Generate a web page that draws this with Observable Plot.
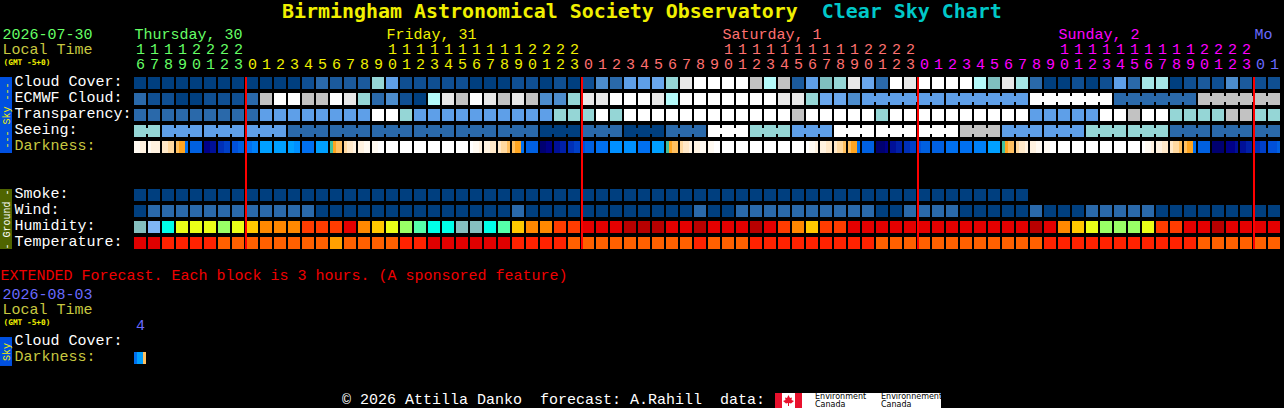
<!DOCTYPE html>
<html><head><meta charset="utf-8">
<script src="https://cdn.jsdelivr.net/npm/d3@7"></script>
<script src="https://cdn.jsdelivr.net/npm/@observablehq/plot@0.6"></script>
<style>
html,body{margin:0;padding:0;background:#000;overflow:hidden}
#head{height:24px;line-height:24px;padding-left:282px;font:bold 19.93px/24px "DejaVu Sans Mono",monospace;white-space:pre;color:#f0f000}
#head span{color:#00c8c8}
#foot{position:relative;height:17px;color:#fff;font:15px/18px "Liberation Mono",monospace;white-space:pre}
#foot .t{position:absolute;left:342px;top:1px}
#logo{position:absolute;left:775px;top:2px;width:166px;height:15px;background:#fff;overflow:hidden}
#logo i{position:absolute;top:0;height:15px;width:7px;background:#e8112d}
#logo svg{position:absolute;left:8px;top:2px}
#logo b{position:absolute;top:0;font:400 8px/8px "DejaVu Sans",sans-serif;color:#000;white-space:pre}
svg{display:block}
</style></head><body>
<div id="head">Birmingham Astronomical Society Observatory  <span>Clear Sky Chart</span></div>
<div id="chart"></div>
<div id="foot"><span class="t">© 2026 Attilla Danko  forecast: A.Rahill  data:</span><div id="logo"><i style="left:0"></i><i style="left:20px"></i><svg width="11" height="11" viewBox="0 0 11 11"><path d="M5.5 0L7 3L9 2.5L8.5 5L11 6L8 8.5L6 8L6 11L5 11L5 8L3 8.5L0 6L2.5 5L2 2.5L4 3Z" fill="#e8112d"/></svg><b style="left:40px">Environment
Canada</b><b style="left:106px">Environnement
Canada</b></div></div>
<script>
// Sky and cloud palette, index = class
const skyPalette = ["#003f7f","#0f4f92","#1b5a9c","#2a69aa","#4c8ccc","#5e9fe8","#6aa7ec","#95d6d6","#7fbfbf","#a4e6e6","#b4fafa","#c2c2c2","#e8e8e8","#ffffff"];
const cloudCover = [
0,0,0,0,0,0,0,0,0,0,
0,0,1,3,2,2,2,7,5,1,
1,1,1,1,0,0,0,1,1,0,
1,0,1,4,3,5,5,6,7,12,
13,13,13,13,11,10,11,2,5,8,
7,12,6,3,13,12,13,13,13,13,
10,8,12,9,3,0,0,1,0,1,
5,3,9,9,0,1,2,1,4,2,
1,1];
const ecmwfCloud = [
3,1,1,0,0,1,1,1,3,11,
13,13,11,11,13,12,7,3,4,1,
0,10,12,11,13,12,11,12,11,4,
4,7,12,12,13,13,13,12,10,13,
13,13,13,13,13,13,12,12,7,6,
6,4,5,5,5,5,5,5,5,5,
5,5,5,5,13,13,13,13,13,13,
3,3,3,3,3,3,11,11,11,11,
11,11];
const transparency = [
3,3,3,3,3,3,3,3,3,5,
5,5,5,5,5,5,5,13,13,7,
5,5,5,5,5,5,5,5,5,5,
7,7,7,13,7,13,13,13,13,13,
13,13,13,13,13,13,13,11,13,13,
13,13,13,7,13,13,13,13,13,13,
13,13,13,13,5,5,5,5,5,13,
13,11,13,13,7,7,7,7,11,11,
7,7];
const seeing = [
7,7,5,5,5,5,5,5,5,5,
5,3,3,3,3,3,3,3,3,3,
3,3,3,3,3,3,3,3,3,0,
0,0,3,3,3,0,0,0,3,3,
3,13,13,13,7,7,7,5,5,5,
13,13,13,13,13,13,13,13,13,11,
11,11,5,5,5,5,5,5,7,7,
7,7,7,7,3,3,3,3,3,3,
3,3];
const smoke = [
0,0,0,0,0,0,0,0,0,0,
0,0,0,0,0,0,0,0,0,0,
0,0,0,0,0,0,0,0,0,0,
0,0,0,0,0,0,0,0,0,0,
0,0,0,0,0,0,0,0,0,0,
0,0,0,0,0,0,0,0,0,0,
0,0,0,0];
const wind = [
0,3,3,3,3,3,3,3,3,3,
3,3,3,0,0,0,0,0,0,0,
0,0,0,0,0,0,0,3,0,0,
0,0,0,0,0,0,0,0,0,0,
3,0,0,3,3,3,3,3,3,3,
3,3,3,0,0,3,3,3,3,0,
0,0,0,0,3,0,0,0,3,3,
3,3,3,0,0,0,0,0,0,0,
0,0];
const humidityPalette = ["#85bfbf","#7fb5f5","#00ffe8","#55ffaa","#99ff66","#eaff18","#ffc800","#ff8800","#ff3c00","#e40000","#b80000"];
const humidity = [
0,1,2,5,5,5,4,5,6,7,
7,7,8,8,8,9,7,6,5,4,
3,2,2,0,0,2,3,6,7,7,
8,8,9,9,9,10,10,10,9,9,
10,9,9,9,10,9,8,7,6,8,
8,9,9,9,9,9,9,9,9,9,
9,9,9,9,10,9,7,6,5,4,
4,4,5,8,8,9,9,10,9,9,
9,9];
const temperaturePalette = ["#e00000","#ff2200","#ff6000","#ffa000"];
const temperature = [
0,0,1,1,1,1,2,2,2,2,
2,2,2,2,3,2,2,2,2,1,
1,0,0,0,0,0,0,1,1,1,
1,2,2,2,2,2,2,2,2,2,
1,2,2,2,1,1,1,1,1,1,
1,1,1,2,2,2,2,2,2,2,
2,2,2,2,2,1,1,1,1,1,
1,1,1,1,1,1,2,2,2,2,
2,2];
// Darkness: each block holds four strips, coded by the keys of darknessPalette
const darknessPalette = {"0":"#ffffff","1":"#fffaf2","2":"#fff2e0","3":"#ffe8c8","4":"#ffd9a0","5":"#ffc060","6":"#ffa520","7":"#40c0a0","8":"#00a0ff","9":"#0090ff","a":"#0080f8","b":"#0070f0","c":"#0060e0","d":"#0050d8","e":"#0040c8","f":"#0030b8","g":"#0020a8","h":"#001098","i":"#000088","j":"#000070"};
const darkness = [
"1122","1222","3344","566b","cccc","iihh","ffee","ddcc","bbaa","8888",
"8888","8899","bbbb","8888","7655","4332","2211","1100","0000","0000",
"0000","0000","0000","0000","0112","2233","3445","566b","cccc","jjii",
"hhgg","ffee","dccc","bbbb","9999","9999","bbbb","8888","7655","4332",
"2211","1100","0000","0000","0000","0000","0000","0000","0112","2233",
"3445","566b","cccc","jjji","hhgg","ffee","dccc","cccc","bbbb","bbbb",
"aaaa","8888","7655","4332","2211","1100","0000","0000","0000","0000",
"0000","0000","0112","2233","3445","566b","cccc","jjjj","iiih","hhgg",
"ffee","dddc"];
const extendedDarkness = ["b885"];
// Rows, in steps of one line of the chart
const rowSky = {"Cloud Cover:":0,"ECMWF Cloud:":1,"Transparency:":2,"Seeing:":3};
const rowGround = {"Smoke:":7,"Wind:":8,"Humidity:":9,"Temperature:":10};
const rowDark = 4, rowExtDark = 17.1875;
const hourStart = 16;
const dayLabels = [["Thursday, 30",0,"#66ff66"],["Friday, 31",18,"#f0f000"],["Saturday, 1",42,"#ff7070"],["Sunday, 2",66,"#ff00ff"],["Mo",80,"#6a6aff"]];
const midnights = [8,32,56,80];
const dayColor = c => c<8?"#66ff66":c<32?"#f0f000":c<56?"#ff7070":c<80?"#ff00ff":"#6a6aff";

const W = 12/14, H = 0.75, mono = "Liberation Mono";
const cells = [];
const addRow = (vals,row,pal)=>vals.forEach((v,c)=>cells.push({x1:c,x2:c+W,y1:row,y2:row+H,color:pal[v]}));
addRow(cloudCover,0,skyPalette);
addRow(ecmwfCloud,1,skyPalette);
addRow(transparency,2,skyPalette);
addRow(seeing,3,skyPalette);
addRow(smoke,7,skyPalette);
addRow(wind,8,skyPalette);
addRow(humidity,9,humidityPalette);
addRow(temperature,10,temperaturePalette);
const addBridge=(vals,row,test)=>vals.forEach((v,c)=>{ if(c<vals.length-1 && test(c)) cells.push({x1:c+W,x2:c+1,y1:row+3/16,y2:row+9/16,color:skyPalette[v]}); });
addBridge(seeing,3,c=>(c-1)%3!==0);
addBridge(ecmwfCloud,1,c=>c>=52&&(c-51)%6!==0);
const addDark=(vals,row)=>vals.forEach((s,c)=>[...s].forEach((k,i)=>cells.push({x1:c+i*3/14,x2:c+(i+1)*3/14,y1:row,y2:row+H,color:darknessPalette[k]})));
addDark(darkness,rowDark);
addDark(extendedDarkness,rowExtDark);

const X0=-134/14;
const bars=[
 {x1:X0,x2:X0+W,y1:0,y2:4.75,color:"#0050e0"},
 {x1:X0,x2:X0+W,y1:7,y2:10.75,color:"#4f6400"},
 {x1:X0,x2:X0+W,y1:16.25,y2:18.06,color:"#0050e0"}];
const barText=[
 {t:"--- Sky ---",y:2.375,color:"#f0f000"},
 {t:"- Ground -",y:8.875,color:"#ffffff"},
 {t:"Sky",y:17.15,color:"#f0f000"}];
const lx=-120/14;
const labels=[
 ...Object.keys(rowSky).map(t=>({t,y:rowSky[t]+0.3125,x:lx,color:"#fff"})),
 {t:"Darkness:",y:rowDark+0.3125,x:lx,color:"#c8c840"},
 ...Object.keys(rowGround).map(t=>({t,y:rowGround[t]+0.3125,x:lx,color:"#fff"})),
 {t:"2026-07-30",y:-2.625,x:-132/14,color:"#66ff66"},
 {t:"Local Time",y:-1.6875,x:-132/14,color:"#c8c840"},
 {t:"EXTENDED Forecast. Each block is 3 hours. (A sponsored feature)",y:12.4375,x:-134/14,color:"#f00000"},
 {t:"2026-08-03",y:13.625,x:-132/14,color:"#6a6aff"},
 {t:"Local Time",y:14.5625,x:-132/14,color:"#c8c840"},
 {t:"Cloud Cover:",y:16.5,x:lx,color:"#fff"},
 {t:"Darkness:",y:17.5,x:lx,color:"#c8c840"},
 ...dayLabels.map(([t,c,color])=>({t,y:-2.625,x:c,color}))];
const small=[{t:"(GMT -5+0)",y:-0.9375},{t:"(GMT -5+0)",y:15.34}];
const hourUnits=darkness.map((_,c)=>({c,t:String((hourStart+c)%24%10),color:dayColor(c)}));
const hourTens=darkness.map((_,c)=>({c,h:(hourStart+c)%24,color:dayColor(c)})).filter(d=>d.h>=10).map(d=>({...d,t:String(Math.floor(d.h/10))}));

const plot=Plot.plot({
 width:1284,height:367,margin:0,
 style:{background:"#000"},
 x:{domain:[0,1],range:[134,148],axis:null},
 y:{domain:[0,1],range:[53,69],axis:null},
 color:{type:"identity"},
 marks:[
  Plot.rect(bars,{x1:"x1",x2:"x2",y1:"y1",y2:"y2",fill:"color"}),
  Plot.rect(cells,{x1:"x1",x2:"x2",y1:"y1",y2:"y2",fill:"color"}),
  Plot.ruleX(midnights,{y1:0,y2:10.75,stroke:"#ff0000",strokeWidth:2,dx:-0.5}),
  Plot.text(labels,{x:"x",y:"y",text:"t",fill:"color",textAnchor:"start",fontFamily:mono,fontSize:15,dy:-1}),
  Plot.text(small,{x:-131/14,y:"y",text:"t",fill:"#f0f000",textAnchor:"start",fontFamily:"DejaVu Sans Mono",fontSize:7.8,fontWeight:"bold"}),
  Plot.text(hourUnits,{x:d=>d.c+W/2,y:-0.75,text:"t",fill:"color",fontFamily:mono,fontSize:15,dy:-1}),
  Plot.text(hourTens,{x:d=>d.c+W/2,y:-1.6875,text:"t",fill:"color",fontFamily:mono,fontSize:15,dy:-1}),
  Plot.text(["4"],{x:W/2,y:15.5,text:d=>d,fill:"#6a6aff",fontFamily:mono,fontSize:15}),
  Plot.text(barText,{x:X0+W/2,y:"y",text:"t",fill:"color",rotate:-90,fontFamily:mono,fontSize:10})
 ]
});
document.getElementById("chart").append(plot);
</script>
</body></html>
